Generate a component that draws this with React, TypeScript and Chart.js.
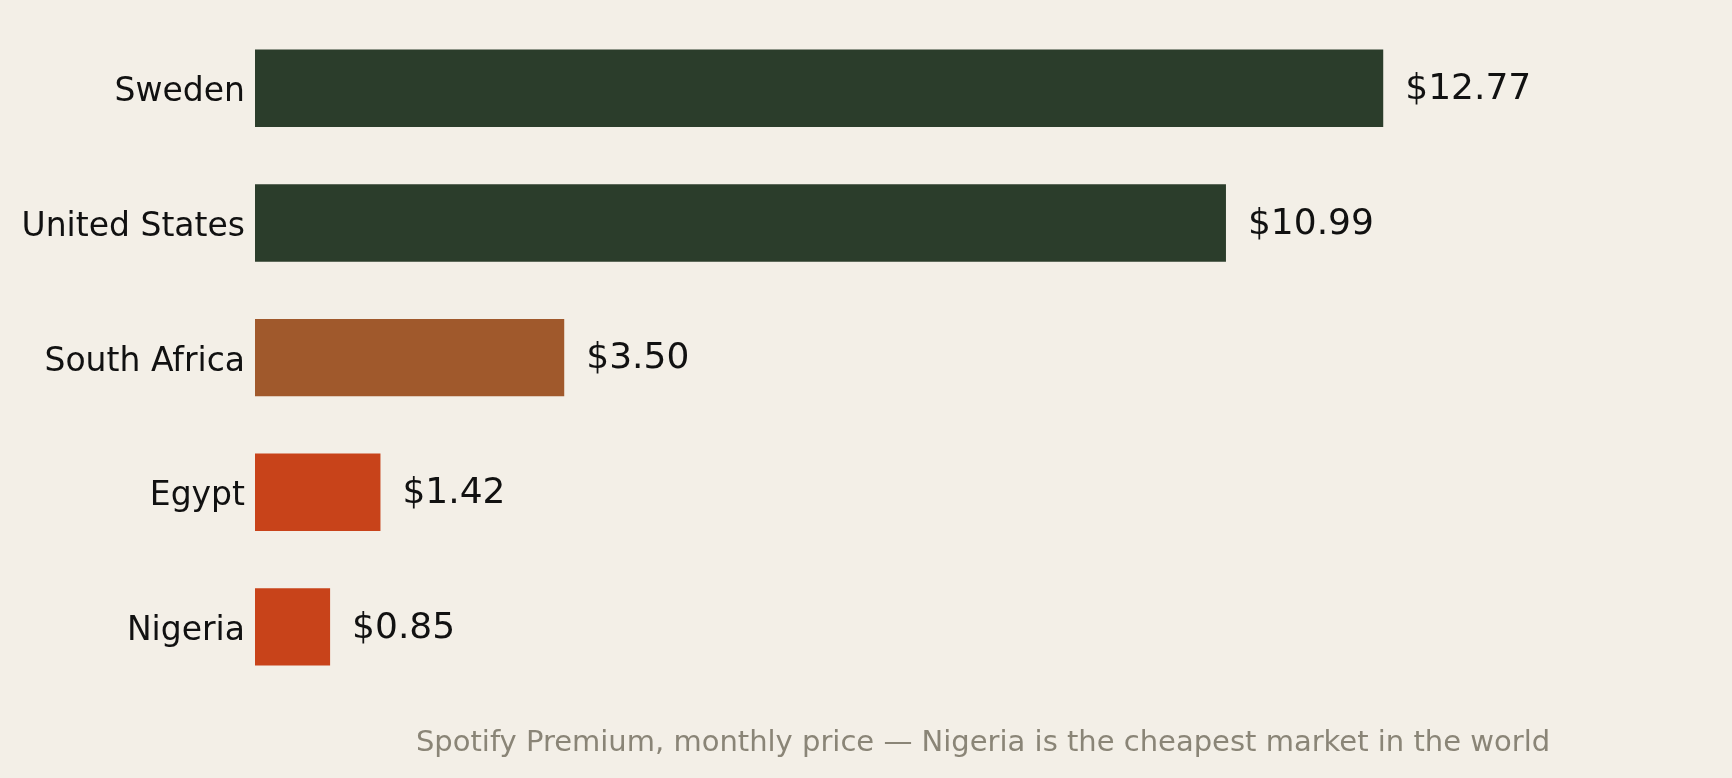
import { useEffect, useRef } from 'react';
import Chart from 'chart.js/auto';

const countries = ['Sweden', 'United States', 'South Africa', 'Egypt', 'Nigeria'];
const prices = [12.77, 10.99, 3.5, 1.42, 0.85];
const barColors = ['#2b3d2b', '#2b3d2b', '#a0592c', '#c8431a', '#c8431a'];
const caption = 'Spotify Premium, monthly price — Nigeria is the cheapest market in the world';

const FONT = "'DejaVu Sans', sans-serif";

const valueLabels = {
  id: 'valueLabels',
  afterDatasetsDraw(chart: Chart) {
    const { ctx } = chart;
    const meta = chart.getDatasetMeta(0);
    ctx.save();
    ctx.font = `36px ${FONT}`;
    ctx.fillStyle = '#111111';
    ctx.textAlign = 'left';
    ctx.textBaseline = 'middle';
    meta.data.forEach((bar: any, i) => {
      ctx.fillText('$' + prices[i].toFixed(2), bar.x + 22, bar.y + 1.5);
    });
    ctx.restore();
  },
};

// nudge the category labels down a little so they sit like the original
const labelNudge = {
  id: 'labelNudge',
  beforeDraw(chart: Chart) {
    const scale: any = chart.scales.y;
    const items = scale.getLabelItems(chart.chartArea);
    items.forEach((item: any) => {
      if (item._nudged) return;
      item.options.translation[1] += 4.5;
      item._nudged = true;
    });
  },
};

export default function App() {
  const canvasRef = useRef<HTMLCanvasElement>(null);
  const chartRef = useRef<Chart | null>(null);

  useEffect(() => {
    document.body.style.margin = '0';
    document.body.style.background = '#f3efe7';
    if (!canvasRef.current) return;
    if (chartRef.current) chartRef.current.destroy();

    chartRef.current = new Chart(canvasRef.current, {
      type: 'bar',
      data: {
        labels: countries,
        datasets: [{
          data: prices,
          backgroundColor: barColors,
          barPercentage: 0.575,
          categoryPercentage: 1,
          borderWidth: 0,
        }],
      },
      options: {
        indexAxis: 'y',
        animation: false,
        responsive: true,
        maintainAspectRatio: false,
        layout: { padding: { top: 21, right: 21, left: 0, bottom: 0 } },
        plugins: {
          legend: { display: false },
          tooltip: { enabled: false },
          title: {
            display: true,
            text: caption,
            position: 'bottom',
            fullSize: false,
            color: '#8a8577',
            font: { family: FONT, size: 29, weight: 'normal' },
            padding: { top: 32, bottom: 17 },
          },
        },
        scales: {
          x: {
            min: 0,
            max: 16.48,
            display: false,
          },
          y: {
            grid: { display: false, drawTicks: false },
            border: { display: false },
            ticks: {
              color: '#111111',
              padding: 10,
              font: { family: FONT, size: 33 },
            },
            afterFit: (axis: any) => {
              axis.width = 255;
              axis.paddingTop = 0;
              axis.paddingBottom = 0;
            },
          },
        },
      },
      plugins: [valueLabels, labelNudge],
    });

    return () => chartRef.current?.destroy();
  }, []);

  return (
    <div style={{ width: 1732, height: 778, background: '#f3efe7', position: 'relative' }}>
      <canvas ref={canvasRef} />
    </div>
  );
}
